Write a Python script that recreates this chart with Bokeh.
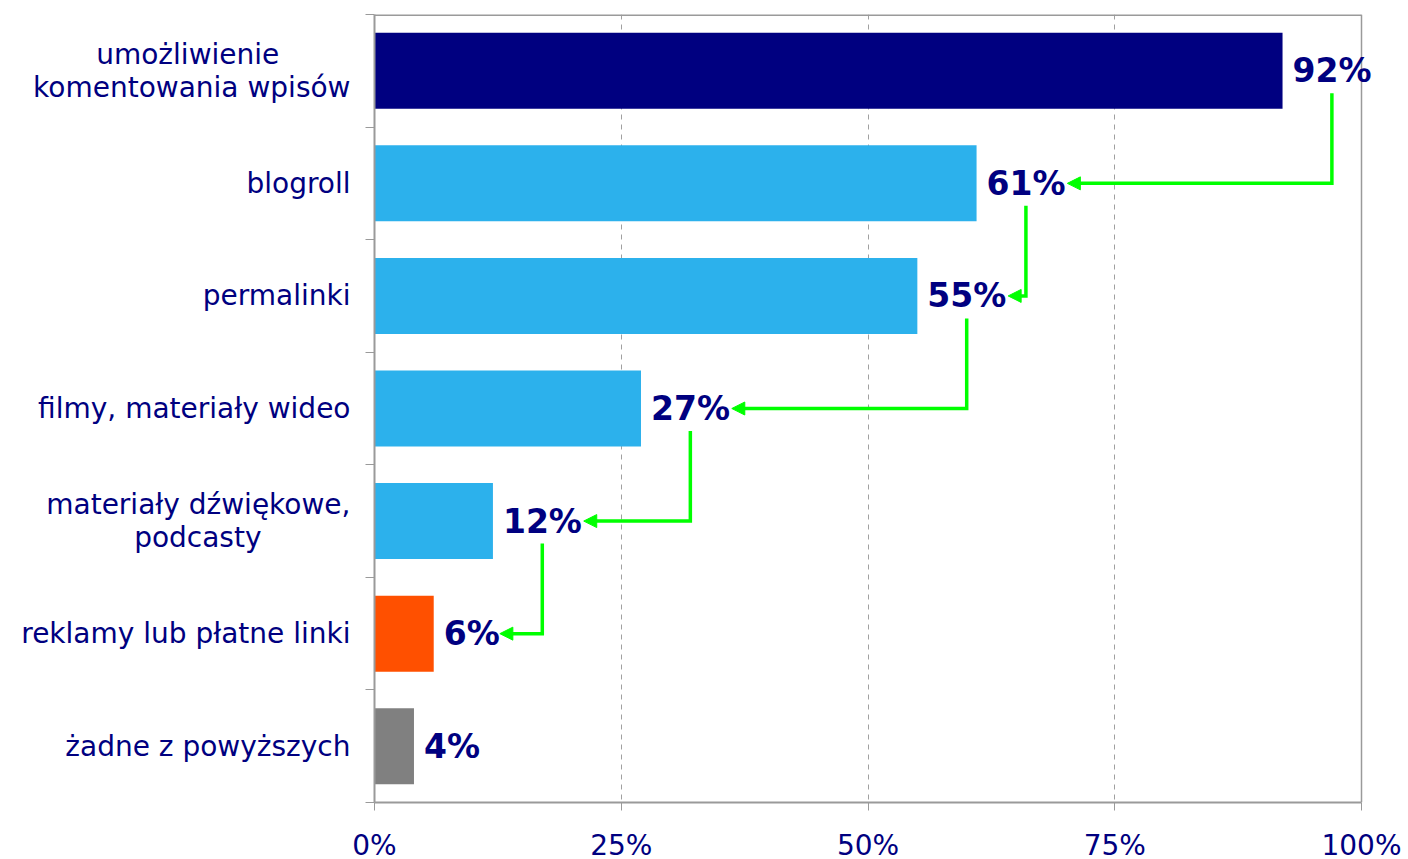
from bokeh.plotting import figure
from bokeh.models import (Range1d, FixedTicker, ColumnDataSource, LabelSet, Arrow,
                          NormalHead, Span)
from bokeh.core.properties import value
from bokeh.embed import file_html
from bokeh.resources import INLINE

categories = ["umożliwienie\nkomentowania wpisów", "blogroll", "permalinki",
              "filmy, materiały wideo", "materiały dźwiękowe,\npodcasty",
              "reklamy lub płatne linki", "żadne z powyższych"]
values = [92, 61, 55, 27, 12, 6, 4]
colors = ["#000080", "#2CB1EC", "#2CB1EC", "#2CB1EC", "#2CB1EC", "#FF5000", "#808080"]
x_ticks = [0, 25, 50, 75, 100]
x_tick_labels = ["0%", "25%", "50%", "75%", "100%"]

NAVY = "#000080"
GRAY = "#9a9a9a"
FONT = "DejaVu Sans"
LABEL_PX = 28
n = len(categories)
centers = [i + 0.5 for i in range(n)]

# approximate DejaVu Sans advance widths (em), used to centre the lines of
# two-line category labels (axis labels are right-aligned line by line)
CW = {"u": .634, "m": .974, "o": .612, "ż": .525, "l": .278, "i": .278, "w": .818,
      "e": .615, "n": .634, "k": .579, "t": .392, "a": .613, " ": .318, "p": .635,
      "s": .521, "ó": .612, "r": .411, "ł": .29, "y": .592, "d": .635, "ź": .525,
      "ę": .615, ",": .318, "c": .55}
NBSP = "\u00a0"
def em_w(s):
    return sum(CW.get(ch, .6) for ch in s)
def centre_lines(label):
    lines = label.split("\n")
    if len(lines) == 1:
        return label
    wmax = max(em_w(s) for s in lines)
    out = []
    for s in lines:
        pad = round((wmax - em_w(s)) / 2 / CW[" "])
        out.append(s + NBSP * pad)
    return "\n".join(out)

# frame extends past 100% so that the value labels are not clipped
FRAME_W = 1034
X_MAX = 100 * FRAME_W / 987

p = figure(output_backend="svg", toolbar_location=None,
           frame_width=FRAME_W, frame_height=788, width=1408, height=859,
           min_border_left=374, min_border_right=0, min_border_top=14,
           min_border_bottom=57,
           x_range=Range1d(0, X_MAX), y_range=Range1d(n, 0))
p.outline_line_color = None
p.background_fill_color = "white"
p.border_fill_color = "white"

src = ColumnDataSource(dict(y=centers, v=values, c=colors,
                            t=[f"{v}%" for v in values]))
p.hbar(y="y", right="v", left=0, height=0.675, fill_color="c", line_color=None,
       source=src)

# grid
p.ygrid.grid_line_color = None
p.xgrid.ticker = FixedTicker(ticks=[25, 50, 75])
p.xgrid.grid_line_color = "#a0a0a0"
p.xgrid.grid_line_dash = "5 5"
p.xgrid.grid_line_width = 1

# plot-area box: right and top edges
p.add_layout(Span(location=100, dimension="height", line_color=GRAY, line_width=1.5))
p.segment(x0=[0], y0=[0], x1=[100], y1=[0], line_color=GRAY, line_width=3)

# x axis
xa = p.xaxis[0]
xa.bounds = (0, 100)
xa.ticker = FixedTicker(ticks=x_ticks)
xa.major_label_overrides = {t: l for t, l in zip(x_ticks, x_tick_labels)}
xa.major_label_text_font = FONT
xa.major_label_text_font_size = f"{LABEL_PX}px"
xa.major_label_text_color = NAVY
xa.axis_line_color = GRAY
xa.axis_line_width = 2
xa.major_tick_line_color = GRAY
xa.major_tick_out = 8
xa.major_tick_in = 0
xa.minor_tick_line_color = None
xa.major_label_standoff = 18

# y axis
ya = p.yaxis[0]
ya.ticker = FixedTicker(ticks=centers, minor_ticks=list(range(n + 1)))
ya.major_label_overrides = {c: centre_lines(l) for c, l in zip(centers, categories)}
ya.major_label_text_font = FONT
ya.major_label_text_font_size = f"{LABEL_PX}px"
ya.major_label_text_color = NAVY
ya.major_label_text_line_height = 1.0
ya.axis_line_color = GRAY
ya.axis_line_width = 2
ya.major_tick_line_color = None
ya.major_tick_out = 0
ya.major_tick_in = 0
ya.minor_tick_line_color = GRAY
ya.minor_tick_out = 9
ya.minor_tick_in = 0
ya.major_label_standoff = 15

# value labels
labels = LabelSet(x="v", y="y", text="t", source=src, x_offset=10,
                  text_font=value(FONT), text_font_size=value("33px"),
                  text_font_style=value("bold"),
                  text_color=NAVY, text_align="left", text_baseline="middle")
p.add_layout(labels)

# green arrows
GREEN = "#00FF00"
def label_w(v):
    return 8.0 if v >= 10 else 5.5
for i in range(n - 2):
    v0 = values[i]
    v1 = values[i + 1]
    vx = v0 + 1.0 + label_w(v0) / 2
    tip = v1 + 1.0 + label_w(v1) + 0.2
    y0 = centers[i] + 0.2
    y1 = centers[i + 1]
    p.line(x=[vx, vx, tip + 0.5], y=[y0, y1, y1], line_color=GREEN, line_width=3.5,
           line_join="miter")
    p.add_layout(Arrow(x_start=tip + 0.6, y_start=y1, x_end=tip, y_end=y1,
                       line_color=GREEN, line_width=3,
                       end=NormalHead(size=13, fill_color=GREEN, line_color=GREEN,
                                      line_width=1)))

open("out.html", "w").write(file_html(p, INLINE))
